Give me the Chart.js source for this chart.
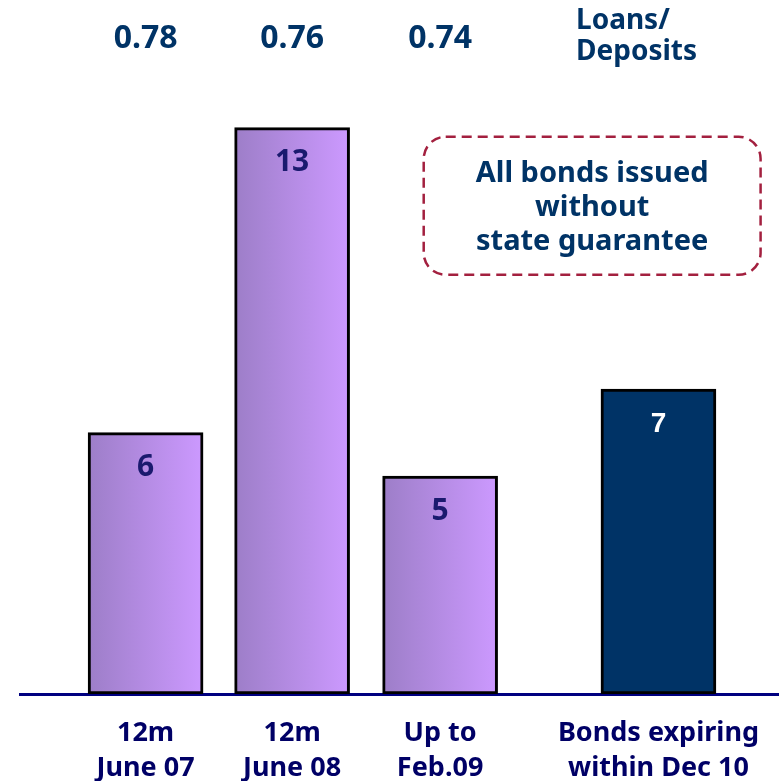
<!DOCTYPE html>
<html>
<head>
<meta charset="utf-8">
<script src="https://cdn.jsdelivr.net/npm/chart.js@4.4.1/dist/chart.umd.min.js"></script>
<style>
  html, body { margin: 0; padding: 0; background: #ffffff; }
  #wrap { width: 781px; height: 781px; }
</style>
</head>
<body>
<div id="wrap"><canvas id="bondsChart" width="781" height="781"></canvas></div>
<script>
// bond issuance, bn
const categories = [['12m', 'June 07'], ['12m', 'June 08'], ['Up to', 'Feb.09'], ['Bonds expiring', 'within Dec 10']];
const slots = [1, 2, 3.01, 4.5];
const issued = [6, 13, 5, 7];
const loansToDeposits = ['0.78', '0.76', '0.74'];
const ratioTitle = ['Loans/', 'Deposits'];
const noteLines = ['All bonds issued', 'without', 'state guarantee'];

const FONT = '"Noto Sans", "DejaVu Sans", sans-serif';
const NAVY = '#003366';

function barFill(context) {
    let chart = context.chart;
    let i = context.dataIndex;
    if (i === 3) return '#003366';
    let xs = chart.scales.x;
    if (!chart.chartArea || !xs) return '#b48ce4';
    let cx = xs.getPixelForValue(slots[i]);
    let g = chart.ctx.createLinearGradient(cx - 57, 0, cx + 57, 0);
    g.addColorStop(0, '#9d7ec8');
    g.addColorStop(1, '#cc99ff');
    return g;
}

// text around the bars: ratios on top, values inside bars, the note box
const overlay = {
    id: 'overlay',
    afterDatasetsDraw(chart) {
        let ctx = chart.ctx;
        let xs = chart.scales.x;
        let ys = chart.scales.y;
        ctx.save();
        ctx.textAlign = 'center';
        ctx.textBaseline = 'middle';

        ctx.fillStyle = NAVY;
        ctx.font = 'bold 32px ' + FONT;
        loansToDeposits.forEach(function(v, i) {
            ctx.fillText(v, xs.getPixelForValue(slots[i]), 39);
        });
        ctx.textAlign = 'left';
        ctx.font = 'bold 28px ' + FONT;
        ctx.fillText(ratioTitle[0], 576, 21);
        ctx.fillText(ratioTitle[1], 576, 52);

        // values inside the bars
        let meta = chart.getDatasetMeta(0);
        ctx.textAlign = 'center';
        meta.data.forEach(function(bar, i) {
            if (i === 3) {
                ctx.fillStyle = '#ffffff';
                ctx.font = 'bold 28px "Liberation Sans", Arial, sans-serif';
            } else {
                ctx.fillStyle = '#1a1a6e';
                ctx.font = 'bold 30px ' + FONT;
            }
            ctx.fillText(String(issued[i]), bar.x, bar.y + 35);
        });

        // dashed note box
        let left = xs.getPixelForValue(2.898);
        let right = xs.getPixelForValue(5.197);
        let top = ys.getPixelForValue(12.79);
        let bottom = ys.getPixelForValue(9.62);
        ctx.strokeStyle = '#a3203f';
        ctx.lineWidth = 2.5;
        ctx.setLineDash([10, 6]);
        ctx.beginPath();
        ctx.roundRect(left, top, right - left, bottom - top, 22);
        ctx.stroke();
        ctx.setLineDash([]);

        ctx.fillStyle = NAVY;
        ctx.font = 'bold 29px ' + FONT;
        let mid = (left + right) / 2;
        noteLines.forEach(function(line, i) {
            ctx.fillText(line, mid, top + 37 + i * 34);
        });
        ctx.restore();
    }
};

new Chart(document.getElementById('bondsChart'), {
    type: 'bar',
    data: {
        datasets: [{
            data: slots.map(function(x, i) { return { x: x, y: issued[i] }; }),
            backgroundColor: barFill,
            borderColor: '#000000',
            borderWidth: 3,
            borderSkipped: false,
            barThickness: 115
        }]
    },
    options: {
        responsive: false,
        animation: false,
        layout: { padding: { top: 84, left: 20, right: 0, bottom: 0 } },
        plugins: { legend: { display: false }, tooltip: { enabled: false } },
        scales: {
            x: {
                type: 'linear',
                offset: false,
                min: 0.143,
                max: 5.32,
                afterBuildTicks: function(axis) {
                    axis.ticks = slots.map(function(v) { return { value: v }; });
                },
                afterFit: function(axis) { axis.height = 87; },
                grid: { display: false, drawTicks: false, offset: false },
                border: { display: true, color: '#000080', width: 3 },
                ticks: {
                    autoSkip: false,
                    maxRotation: 0,
                    padding: 22,
                    color: '#000066',
                    font: { family: FONT, size: 27, weight: 'bold', lineHeight: 1.3 },
                    callback: function(value) {
                        let i = slots.indexOf(value);
                        return i >= 0 ? categories[i] : '';
                    }
                }
            },
            y: {
                display: false,
                min: 0,
                max: 14
            }
        }
    },
    plugins: [overlay]
});
</script>
</body>
</html>
